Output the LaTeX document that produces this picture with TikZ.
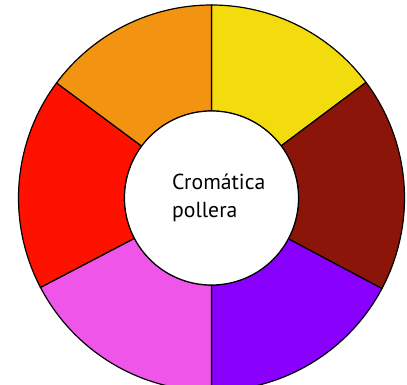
\documentclass[tikz,border=0pt]{standalone}
\usepackage{fontspec}
\setmainfont{PT Sans}
\definecolor{cyellow}{HTML}{F3DC0E}
\definecolor{cbrown}{HTML}{8B1509}
\definecolor{cpurple}{HTML}{8A00FF}
\definecolor{cpink}{HTML}{EE55E8}
\definecolor{cred}{HTML}{FF1100}
\definecolor{corange}{HTML}{F39312}
\begin{document}
\begin{tikzpicture}[x=1pt,y=1pt,
  seg/.style={draw=black,line width=1.2pt,line join=round}]
\useasboundingbox (0,0) rectangle (407,385);
\fill[white] (0,0) rectangle (407,385);
\coordinate (c) at (211.5,187);
\def\Ro{193}
\def\Ri{87}
\foreach \a/\b/\col in {36.8/90/cyellow, -28/36.8/cbrown, -90/-28/cpurple, -152.4/-90/cpink, -216.6/-152.4/cred, -270/-216.6/corange}{
  \filldraw[seg,fill=\col] ([shift={(\a:\Ro)}]c) arc[start angle=\a,end angle=\b,radius=\Ro]
     -- ([shift={(\b:\Ri)}]c) arc[start angle=\b,end angle=\a,radius=\Ri] -- cycle;
}
\filldraw[seg,fill=white] (c) circle[radius=\Ri];
\node[anchor=base west,align=left,font=\fontsize{21.7}{28}\selectfont,inner sep=0pt] (t) at (172,167) {Cromática\\pollera};
\end{tikzpicture}
\end{document}
